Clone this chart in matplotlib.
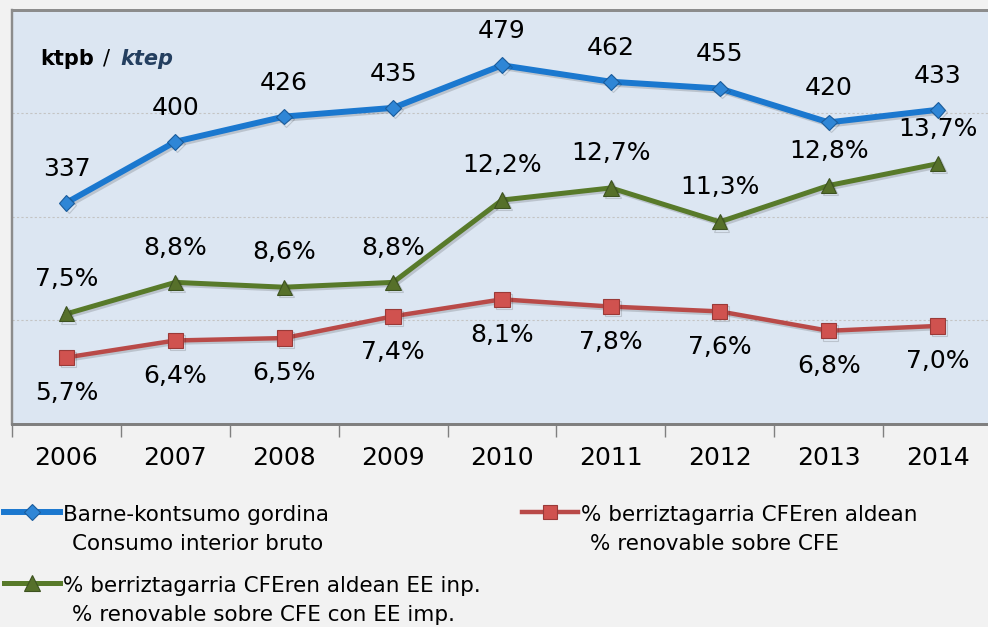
import numpy as np
import matplotlib.pyplot as plt
import matplotlib.patheffects as pe
from matplotlib.lines import Line2D

years = ['2006', '2007', '2008', '2009', '2010', '2011', '2012', '2013', '2014']
consumo = [337, 400, 426, 435, 479, 462, 455, 420, 433]  # ktep
renov_cfe = [5.7, 6.4, 6.5, 7.4, 8.1, 7.8, 7.6, 6.8, 7.0]  # %
renov_cfe_imp = [7.5, 8.8, 8.6, 8.8, 12.2, 12.7, 11.3, 12.8, 13.7]  # %

lbl_blue = ['Barne-kontsumo gordina', 'Consumo interior bruto']
lbl_red = ['% berriztagarria CFEren aldean', '% renovable sobre CFE']
lbl_green = ['% berriztagarria CFEren aldean EE inp.', '% renovable sobre CFE con EE imp.']

W, H = 988, 627
BG = '#f2f2f2'
PLOT_BG = '#dce6f2'
BLUE, BLUE_M, BLUE_E = '#1b78cf', '#2f86d6', '#1a5c9c'
RED, RED_M, RED_E = '#b94a48', '#d0524f', '#9a3a38'
GREEN, GREEN_M, GREEN_E = '#587a2a', '#56702a', '#3d5220'

plt.rcParams['font.family'] = ['DejaVu Sans']

fig = plt.figure(figsize=(W / 100, H / 100), dpi=100, facecolor=BG)


def fx(px):
    return px / W


def fy(py):
    return 1 - py / H


ax = fig.add_axes([fx(12), fy(424), fx(992) - fx(12), fy(10) - fy(424)])
ax.set_facecolor(PLOT_BG)
ax2 = ax.twinx()

x = np.arange(len(years))
shadow = [pe.SimpleLineShadow(offset=(1.5, -1.5), alpha=0.15, shadow_color='k'), pe.Normal()]

ax.plot(x, consumo, color=BLUE, lw=4.3, marker='D', ms=8, mfc=BLUE_M, mec=BLUE_E, mew=0.8,
        path_effects=shadow, zorder=3)
ax2.plot(x, renov_cfe, color=RED, lw=3.2, marker='s', ms=11, mfc=RED_M, mec=RED_E, mew=0.8,
         path_effects=shadow, zorder=3)
ax2.plot(x, renov_cfe_imp, color=GREEN, lw=3.6, marker='^', ms=11, mfc=GREEN_M, mec=GREEN_E,
         mew=0.8, path_effects=shadow, zorder=3)

ax.set_xlim(-0.5, len(years) - 0.5)
ax.set_ylim(108.4, 536.1)
ax2.set_ylim(2.95, 20.05)

# gridlines at quarter heights
lo, hi = ax.get_ylim()
ax.set_yticks(np.linspace(lo, hi, 5)[1:-1])
ax.yaxis.grid(True, color='#c4c4c4', ls=(0, (2, 2)), lw=0.8)
ax.tick_params(axis='y', left=False, labelleft=False)
ax2.set_yticks([])

ax.set_xticks(np.arange(-0.5, len(years), 1.0))
ax.set_xticklabels([])
ax.set_xticks(x, minor=True)
ax.set_xticklabels(years, minor=True, fontsize=18)
ax.tick_params(axis='x', which='major', length=9, width=1, color='#808080', direction='out')
ax.tick_params(axis='x', which='minor', length=0, pad=16)

for a in (ax, ax2):
    a.spines['right'].set_visible(False)
    a.spines['left'].set_color('#8c8c8c')
    a.spines['left'].set_linewidth(1.6)
    a.spines['top'].set_color('#8c8c8c')
    a.spines['top'].set_linewidth(2)
    a.spines['bottom'].set_color('#7f7f7f')
    a.spines['bottom'].set_linewidth(2)

for xi, v in zip(x, consumo):
    ax.annotate(str(v), (xi, v), xytext=(0, 24.5), textcoords='offset points',
                ha='center', va='center', fontsize=18)
for xi, v in zip(x, renov_cfe_imp):
    ax2.annotate(f'{v:.1f}%'.replace('.', ','), (xi, v), xytext=(0, 25), textcoords='offset points',
                 ha='center', va='center', fontsize=18)
for xi, v in zip(x, renov_cfe):
    ax2.annotate(f'{v:.1f}%'.replace('.', ','), (xi, v), xytext=(0, -25.5), textcoords='offset points',
                 ha='center', va='center', fontsize=18)

# unit label
fig.text(fx(40), fy(65), 'ktpb', fontsize=15, fontweight='bold', va='baseline')
fig.text(fx(103), fy(65), '/', fontsize=15, va='baseline')
fig.text(fx(120), fy(65), 'ktep', fontsize=15, fontweight='bold', fontstyle='italic',
         color='#243f60', va='baseline')

# legend (drawn by hand to keep two-line labels aligned like the original)
entries = [
    (4, 512, BLUE, 4.3, 'D', 8, BLUE_M, BLUE_E, lbl_blue),
    (522, 512, RED, 3.2, 's', 10, RED_M, RED_E, lbl_red),
    (4, 583, GREEN, 3.6, '^', 11, GREEN_M, GREEN_E, lbl_green),
]
for x0, y0, c, lw, mk, ms, mfc, mec, labels in entries:
    fig.add_artist(Line2D([fx(x0), fx(x0 + 56)], [fy(y0), fy(y0)], color=c, lw=lw,
                          transform=fig.transFigure))
    fig.add_artist(Line2D([fx(x0 + 28)], [fy(y0)], marker=mk, ms=ms, mfc=mfc, mec=mec,
                          mew=0.8, transform=fig.transFigure))
    fig.text(fx(x0 + 59), fy(y0 + 9), labels[0], fontsize=15.5, va='baseline')
    fig.text(fx(x0 + 68), fy(y0 + 38), labels[1], fontsize=15.5, va='baseline')

fig.savefig('out.png', dpi=100, facecolor=BG)
